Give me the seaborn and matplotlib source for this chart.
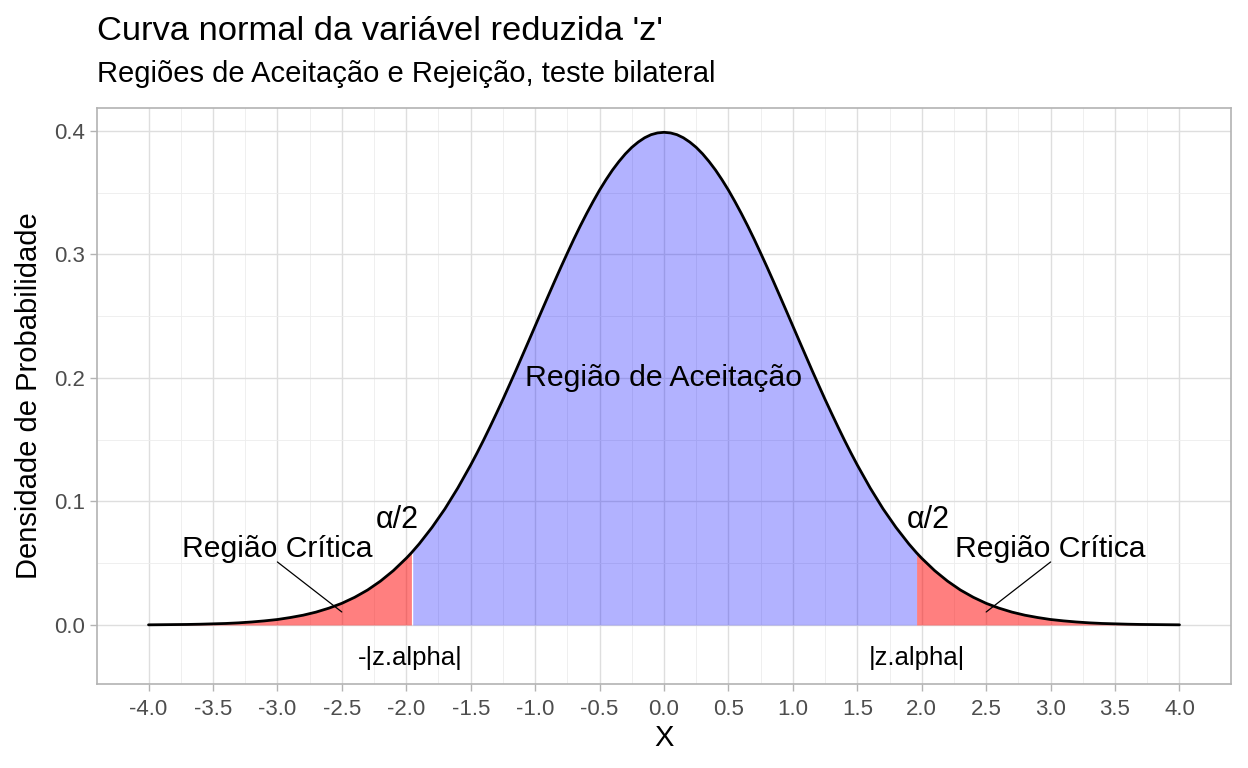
import matplotlib
matplotlib.use("Agg")
import matplotlib.pyplot as plt
import numpy as np
import seaborn as sns

# densidade da normal padrão
x_vals = [-4.0, -3.9, -3.8, -3.7, -3.6, -3.5, -3.4, -3.3, -3.2, -3.1,
          -3.0, -2.9, -2.8, -2.7, -2.6, -2.5, -2.4, -2.3, -2.2, -2.1,
          -2.0, -1.96, -1.95, -1.9, -1.8, -1.7, -1.6, -1.5, -1.45, -1.4, -1.35, -1.3,
          -1.25, -1.2, -1.15, -1.1, -1.05, -1.0, -0.95, -0.9, -0.85, -0.8, -0.75,
          -0.7, -0.65, -0.6, -0.55, -0.5, -0.45, -0.4, -0.35, -0.3, -0.25,
          -0.2, -0.15, -0.1, -0.05, 0.0, 0.05, 0.1, 0.15, 0.2, 0.25,
          0.3, 0.35, 0.4, 0.45, 0.5, 0.55, 0.6, 0.65, 0.7, 0.75,
          0.8, 0.85, 0.9, 0.95, 1.0, 1.05, 1.1, 1.15, 1.2, 1.25,
          1.3, 1.35, 1.4, 1.45, 1.5, 1.6, 1.7, 1.8, 1.9, 1.96,
          2.0, 2.1, 2.2, 2.3, 2.4, 2.5, 2.6, 2.7, 2.8, 2.9,
          3.0, 3.1, 3.2, 3.3, 3.4, 3.5, 3.6, 3.7, 3.8, 3.9, 4.0]
dens_vals = [0.0001, 0.0002, 0.0003, 0.0004, 0.0006, 0.0009, 0.0012, 0.0017, 0.0024, 0.0033,
             0.0044, 0.0060, 0.0079, 0.0104, 0.0136, 0.0175, 0.0224, 0.0283, 0.0355, 0.0440,
             0.0540, 0.0584, 0.0596, 0.0656, 0.0790, 0.0940, 0.1109, 0.1295, 0.1394, 0.1497, 0.1604, 0.1714,
             0.1826, 0.1942, 0.2059, 0.2179, 0.2299, 0.2420, 0.2541, 0.2661, 0.2780, 0.2897, 0.3011,
             0.3123, 0.3230, 0.3332, 0.3429, 0.3521, 0.3605, 0.3683, 0.3752, 0.3814, 0.3867,
             0.3910, 0.3945, 0.3970, 0.3984, 0.3989, 0.3984, 0.3970, 0.3945, 0.3910, 0.3867,
             0.3814, 0.3752, 0.3683, 0.3605, 0.3521, 0.3429, 0.3332, 0.3230, 0.3123, 0.3011,
             0.2897, 0.2780, 0.2661, 0.2541, 0.2420, 0.2299, 0.2179, 0.2059, 0.1942, 0.1826,
             0.1714, 0.1604, 0.1497, 0.1394, 0.1295, 0.1109, 0.0940, 0.0790, 0.0656, 0.0584,
             0.0540, 0.0440, 0.0355, 0.0283, 0.0224, 0.0175, 0.0136, 0.0104, 0.0079, 0.0060,
             0.0044, 0.0033, 0.0024, 0.0017, 0.0012, 0.0009, 0.0006, 0.0004, 0.0003, 0.0002, 0.0001]

z_crit = 1.96
red_start = 3.8
blue_start = -1.95

x_ticks = [-4.0, -3.5, -3.0, -2.5, -2.0, -1.5, -1.0, -0.5, 0.0,
           0.5, 1.0, 1.5, 2.0, 2.5, 3.0, 3.5, 4.0]
y_ticks = [0.0, 0.1, 0.2, 0.3, 0.4]

# textos e setas
accept_label = ("Região de Aceitação", 0.0, 0.2)
alpha_labels = [("α/2", -2.07, 0.085), ("α/2", 2.05, 0.085)]
crit_labels = [("Região Crítica", -3.0, 0.0615), ("Região Crítica", 3.0, 0.0615)]
crit_segments = [([-3.0, -2.5], [0.051, 0.0105]), ([3.0, 2.5], [0.051, 0.0105])]
z_labels = [("-|z.alpha|", -1.97, -0.027), ("|z.alpha|", 1.96, -0.027)]

sns.set_theme(style="whitegrid")
plt.rcParams["font.family"] = ["Liberation Sans", "DejaVu Sans"]
plt.rcParams["text.color"] = "black"
plt.rcParams["axes.labelcolor"] = "black"

fig = plt.figure(figsize=(12.48, 7.68), dpi=100)
ax = fig.add_axes([0.0777, 0.1094, 0.9087, 0.75])

x = np.array(x_vals)
y = np.array(dens_vals)

ax.fill_between(x, 0, y, where=(x <= -z_crit) & (x >= -red_start),
                color="#FF0000", alpha=0.5, linewidth=0)
ax.fill_between(x, 0, y, where=(x >= blue_start) & (x <= z_crit),
                color="#0000FF", alpha=0.3, linewidth=0)
ax.fill_between(x, 0, y, where=(x >= z_crit) & (x <= red_start),
                color="#FF0000", alpha=0.5, linewidth=0)

sns.lineplot(x=x_vals, y=dens_vals, ax=ax, color="black", linewidth=2.0, sort=False)

ax.text(accept_label[1], accept_label[2], accept_label[0], fontsize=21.8,
        ha="center", va="center", color="black")
for txt, tx, ty in alpha_labels:
    ax.text(tx, ty, txt, fontsize=22, ha="center", va="center")
for txt, tx, ty in crit_labels:
    ax.text(tx, ty, txt, fontsize=21.7, ha="center", va="center")
for sx, sy in crit_segments:
    ax.plot(sx, sy, color="black", linewidth=0.9)
for txt, tx, ty in z_labels:
    ax.text(tx, ty, txt, fontsize=18.5, ha="center", va="center")

ax.set_xlim(-4.4, 4.4)
ax.set_ylim(-0.0478, 0.4186)
ax.set_xticks(x_ticks)
ax.set_xticklabels([f"{v:.1f}" for v in x_ticks])
ax.set_yticks(y_ticks)
ax.set_yticklabels([f"{v:.1f}" for v in y_ticks])
ax.set_xticks(np.array(x_ticks[:-1]) + 0.25, minor=True)
ax.set_yticks([0.05, 0.15, 0.25, 0.35], minor=True)

ax.grid(which="major", color="#DEDEDE", linewidth=1.0)
ax.grid(which="minor", color="#EDEDED", linewidth=0.6)
ax.set_axisbelow(True)
for sp in ax.spines.values():
    sp.set_color("#B3B3B3")
    sp.set_linewidth(1.2)

ax.tick_params(axis="both", which="major", labelsize=16, labelcolor="#4D4D4D",
               color="#B3B3B3", length=5, width=1, bottom=True, left=True)
ax.tick_params(axis="x", which="major", pad=6)
ax.tick_params(axis="both", which="minor", length=0)

ax.set_xlabel("X", fontsize=21, labelpad=3)
ax.set_ylabel("Densidade de Probabilidade", fontsize=21, labelpad=8)

fig.text(0.0777, 0.948, "Curva normal da variável reduzida 'z'", fontsize=24.8,
         ha="left", va="baseline")
fig.text(0.0777, 0.893, "Regiões de Aceitação e Rejeição, teste bilateral", fontsize=21,
         ha="left", va="baseline")

fig.savefig("out.png", dpi=100)
